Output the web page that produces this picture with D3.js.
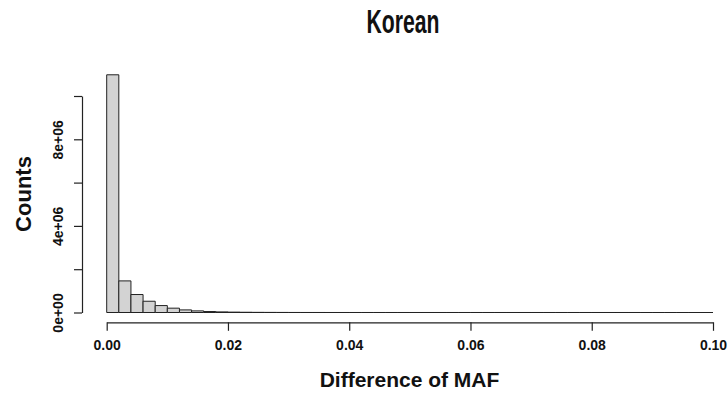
<!DOCTYPE html>
<html>
<head>
<meta charset="utf-8">
<script src="https://cdn.jsdelivr.net/npm/d3@7"></script>
<style>
  body { margin: 0; background: #fff; }
  text { font-family: "Liberation Sans", Arial, sans-serif; font-weight: bold; fill: #111; }
</style>
</head>
<body>
<div id="chart"></div>
<script>
// Histogram of MAF differences, bin width 0.002
var binWidth = 0.002;
var binCounts = [
    10980000, 1460000, 830000, 520000, 320000, 200000, 120000, 75000, 45000, 28000,
    18000, 11000, 7000, 4500, 3000, 2000, 1300, 900, 600, 400,
    280, 200, 140, 100, 70, 50, 36, 26, 19, 14,
    10, 8, 6, 5, 4, 3, 3, 2, 2, 1,
    1, 1, 1, 1, 0, 0, 0, 0, 0, 0
];
var xTicks = [0, 0.02, 0.04, 0.06, 0.08, 0.10];
var xTickLabels = ["0.00", "0.02", "0.04", "0.06", "0.08", "0.10"];
var yTicks = [0, 2e6, 4e6, 6e6, 8e6, 1e7];
var yTickLabels = ["0e+00", "", "4e+06", "", "8e+06", ""];

var svgWidth = 728;
var svgHeight = 395;

var svg = d3.select("#chart")
    .append("svg")
    .attr("width", svgWidth)
    .attr("height", svgHeight);

// Scales
var xScale = d3.scaleLinear()
    .domain([0, 0.1])
    .range([106.7, 713]);

var yScale = d3.scaleLinear()
    .domain([0, 1e7])
    .range([312.5, 96]);

var bins = binCounts.map((c, i) => ({x0: i * binWidth, x1: (i + 1) * binWidth, count: c}));

// Bars as closed paths so empty bins still show their outline
svg.append("g").selectAll("path")
    .data(bins)
    .enter()
    .append("path")
    .attr("d", d => {
        var p = d3.path();
        p.rect(xScale(d.x0), yScale(d.count), xScale(d.x1) - xScale(d.x0), yScale(0) - yScale(d.count));
        return p.toString();
    })
    .attr("fill", "#d3d3d3")
    .attr("stroke", "#222")
    .attr("stroke-width", 1);

// Axes
var bottomAxis = d3.axisBottom(xScale)
    .tickValues(xTicks)
    .tickSizeInner(8.5)
    .tickSizeOuter(0)
    .tickPadding(9)
    .tickFormat((d, i) => xTickLabels[i]);

var leftAxis = d3.axisLeft(yScale)
    .tickValues(yTicks)
    .tickSizeInner(8)
    .tickSizeOuter(0)
    .tickFormat((d, i) => yTickLabels[i]);

var gx = svg.append("g")
    .attr("transform", "translate(0, 322.3)")
    .call(bottomAxis);

var gy = svg.append("g")
    .attr("transform", "translate(82, 0)")
    .call(leftAxis);

[gx, gy].forEach(g => {
    g.selectAll("path, line").attr("stroke", "#222").attr("stroke-width", 1.2);
    g.selectAll("text").attr("font-size", "14px").attr("font-family", null).attr("fill", "#111");
});

// rotate y tick labels like R's las=0
gy.selectAll("text")
    .attr("x", null)
    .attr("dy", null)
    .attr("text-anchor", "middle")
    .attr("transform", "translate(-19, 0) rotate(-90)");

// Title
svg.append("text")
    .attr("x", 403)
    .attr("y", 32.7)
    .attr("text-anchor", "middle")
    .attr("font-family", "'Liberation Sans Narrow', 'Liberation Sans', sans-serif")
    .attr("font-size", "33px")
    .attr("textLength", 73)
    .attr("lengthAdjust", "spacingAndGlyphs")
    .text("Korean");

// Axis titles
svg.append("text")
    .attr("x", 409.5)
    .attr("y", 387.3)
    .attr("text-anchor", "middle")
    .attr("font-size", "21px")
    .text("Difference of MAF");

svg.append("text")
    .attr("transform", "translate(31, 194) rotate(-90)")
    .attr("text-anchor", "middle")
    .attr("font-size", "22px")
    .text("Counts");
</script>
</body>
</html>
